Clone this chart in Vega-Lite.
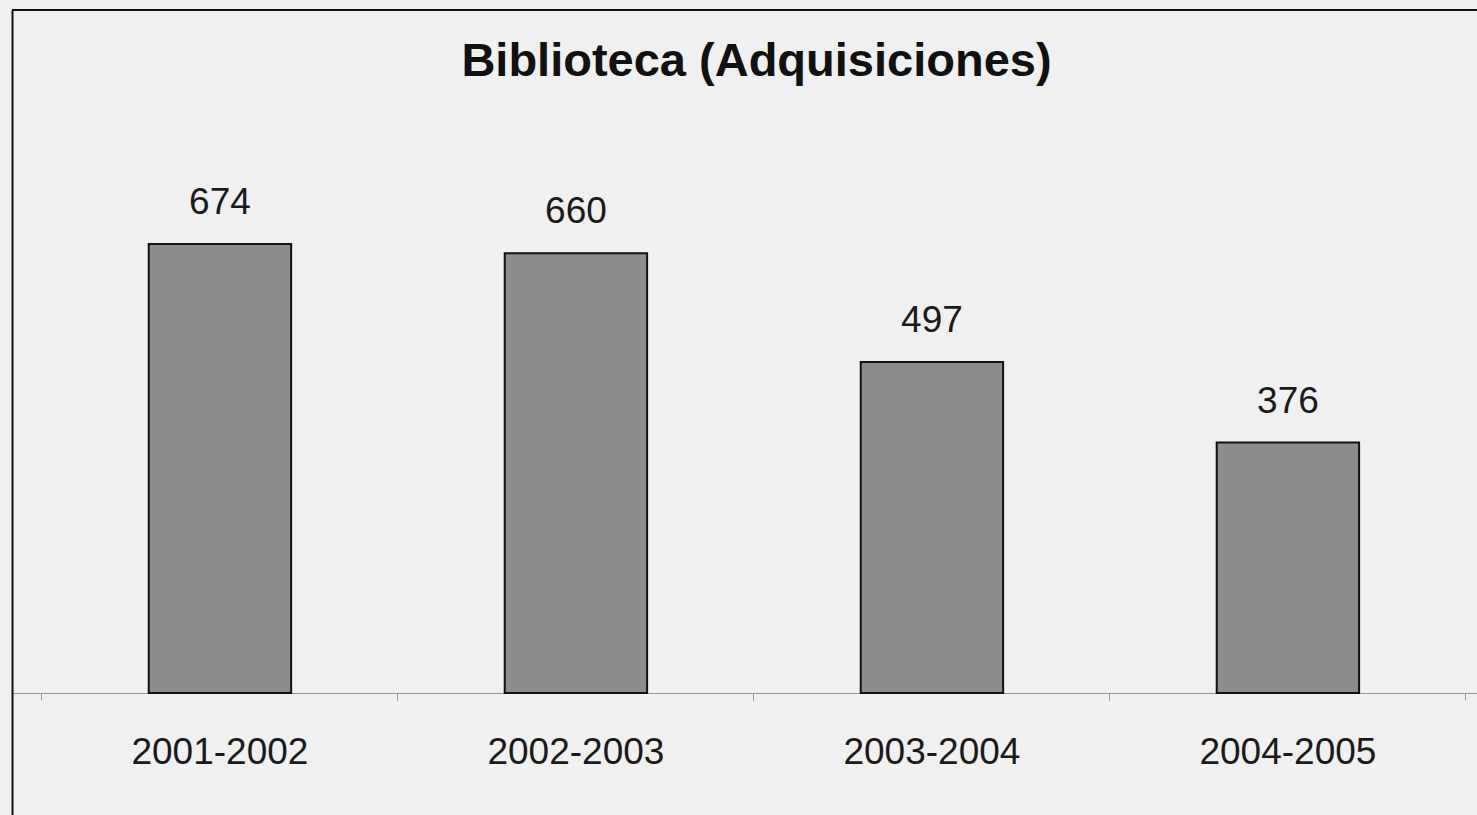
{
  "$schema": "https://vega.github.io/schema/vega-lite/v6.json",
  "autosize": "none",
  "width": 1465,
  "height": 805,
  "padding": {"left": 12, "top": 10, "right": 0, "bottom": 0},
  "background": "#f0f0f0",
  "config": {"view": {"stroke": null}, "font": "Liberation Sans"},
  "title": {
    "text": "Biblioteca (Adquisiciones)",
    "font": "Liberation Sans",
    "fontSize": 47,
    "fontWeight": "bold",
    "color": "#111111",
    "anchor": "middle",
    "baseline": "alphabetic",
    "dx": 12,
    "offset": -114
  },
  "data": {
    "values": [
      {"periodo": "2001-2002", "adquisiciones": 674},
      {"periodo": "2002-2003", "adquisiciones": 660},
      {"periodo": "2003-2004", "adquisiciones": 497},
      {"periodo": "2004-2005", "adquisiciones": 376}
    ]
  },
  "resolve": {"axis": {"x": "independent"}},
  "layer": [
    {
      "mark": {"type": "bar", "fill": "#8c8c8c", "stroke": "#111111", "strokeWidth": 2},
      "encoding": {
        "x": {
          "field": "periodo",
          "type": "nominal",
          "sort": null,
          "scale": {"paddingInner": 0.6, "paddingOuter": 0.3576, "align": 0.537},
          "axis": {
            "orient": "bottom",
            "offset": -122,
            "title": null,
            "labelAngle": 0,
            "labelFont": "Liberation Sans",
            "labelFontSize": 37,
            "labelColor": "#1a1a1a",
            "labelPadding": 34,
            "bandPosition": -0.75,
            "tickSize": 7,
            "tickColor": "#999999",
            "tickWidth": 1,
            "domainColor": "#999999",
            "domainWidth": 1,
            "grid": false
          }
        },
        "y": {
          "field": "adquisiciones",
          "type": "quantitative",
          "scale": {"domain": [-183.1, 1025.2], "nice": false, "zero": false},
          "axis": {
            "orient": "left",
            "title": null,
            "labels": false,
            "ticks": false,
            "grid": false,
            "domainColor": "#111111",
            "domainWidth": 2
          }
        },
        "y2": {"datum": 0}
      }
    },
    {
      "mark": {"type": "text", "baseline": "alphabetic", "dy": -30, "font": "Liberation Sans", "fontSize": 37, "color": "#1a1a1a"},
      "encoding": {
        "x": {
          "field": "periodo",
          "type": "nominal",
          "sort": null,
          "axis": {
            "orient": "bottom",
            "offset": -122,
            "title": null,
            "labels": false,
            "domain": false,
            "grid": false,
            "bandPosition": 1.75,
            "tickSize": 7,
            "tickColor": "#999999",
            "tickWidth": 1
          }
        },
        "y": {"field": "adquisiciones", "type": "quantitative"},
        "text": {"field": "adquisiciones", "type": "quantitative"}
      }
    },
    {
      "mark": {"type": "rule", "color": "#111111", "strokeWidth": 2},
      "encoding": {
        "y": {"datum": 1025.2}
      }
    }
  ]
}
